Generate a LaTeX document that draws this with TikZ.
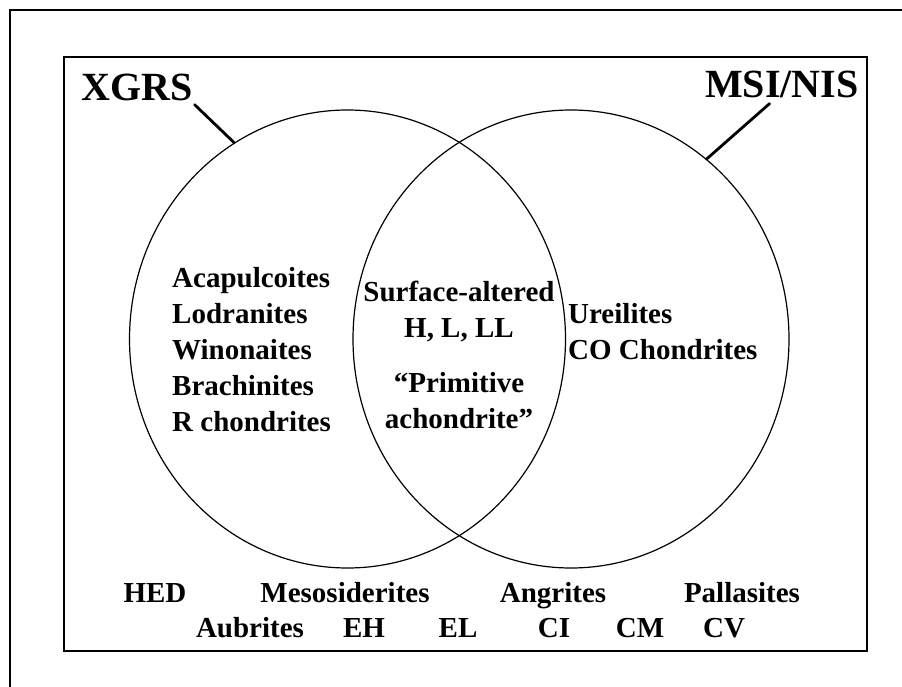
\documentclass[tikz,border=0pt]{standalone}
\usepackage{fontspec}
\setmainfont{Liberation Serif}
\usetikzlibrary{calc,shapes.geometric}

\begin{document}
\begin{tikzpicture}[
    x=1pt, y=-1pt,
    ring/.style={
      draw,
      ellipse,
      line width=1.2pt,
      inner sep=0pt,
      minimum width=436pt,
      minimum height=458pt,
    },
    title/.style={font=\fontsize{40}{48}\selectfont\bfseries, inner sep=0pt},
    group/.style={font=\fontsize{29}{36}\selectfont\bfseries, inner sep=0pt},
    leader/.style={line width=2.8pt, line cap=round},
    ]
    \useasboundingbox (0,0) rectangle (902,687);
    \draw[line width=2pt] (10,687) -- (10,10) -- (902,10);
    \draw[line width=1.2pt] (64,57) rectangle (867,651);

    \node[ring] (xgrs-ring) at (347.5,339) {};
    \node[ring] (msi-ring)  at (571,339)   {};
    \node[title, anchor=base west] (xgrs) at (81,101)  {XGRS};
    \node[title, anchor=base west] (msi)  at (705,98)  {MSI/NIS};
    \draw[leader] ($(xgrs.south east)+(2,3)$) -- (xgrs-ring.120);
    \draw[leader] ($(msi.south west)!0.42!(msi.south east)+(0,5)$) -- (msi-ring.53);

    % the last line of each list sits on the given baseline
    \node[group, align=left, anchor=base west] (xgrs-only) at (172,431)
      {Acapulcoites\\Lodranites\\Winonaites\\Brachinites\\R chondrites};
    \node[group, align=center, anchor=base] (both) at (459,428)
      {Surface-altered\\H, L, LL\\[19pt]“Primitive\\achondrite”};
    \node[group, align=left, anchor=base west] (msi-only) at (568,359)
      {Ureilites\\CO Chondrites};

    \node[group, anchor=base] (hed)    at (155,602) {HED};
    \node[group, anchor=base] (meso)   at (345,602) {Mesosiderites};
    \node[group, anchor=base] (angr)   at (553,602) {Angrites};
    \node[group, anchor=base] (palla)  at (742,602) {Pallasites};
    \node[group, anchor=base] (aubr)   at (250,637) {Aubrites};
    \node[group, anchor=base] (eh)     at (364,637) {EH};
    \node[group, anchor=base] (el)     at (458,637) {EL};
    \node[group, anchor=base] (ci)     at (554,637) {CI};
    \node[group, anchor=base] (cm)     at (640,637) {CM};
    \node[group, anchor=base] (cv)     at (724,637) {CV};
\end{tikzpicture}
\end{document}
